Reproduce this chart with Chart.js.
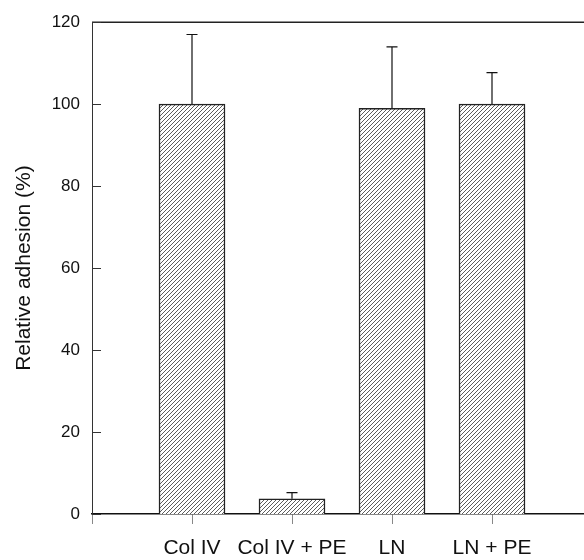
<!DOCTYPE html>
<html>
<head>
<meta charset="utf-8">
<script src="https://cdn.jsdelivr.net/npm/chart.js@4.4.1/dist/chart.umd.min.js"></script>
<style>
  html, body { margin: 0; padding: 0; background: #fff; }
  canvas { display: block; }
</style>
</head>
<body>
<canvas id="chart" width="584" height="560"></canvas>
<script>
  // data
  const tickLabels = ["", "Col IV", "Col IV + PE", "LN", "LN + PE"]
  const adhesion = [100, 3.7, 99, 100]      // bar heights (%)
  const errTop = [117, 5.2, 114, 107.7]     // upper end of error bars (%)
  const yTicks = [0, 20, 40, 60, 80, 100, 120]

  function hatch(){   // diagonal hatch fill like the print
    const c = document.createElement("canvas")
    c.width = 4; c.height = 4
    const g = c.getContext("2d")
    g.fillStyle = "#fff"
    g.fillRect(0, 0, 4, 4)
    g.strokeStyle = "#4a4a4a"
    g.lineWidth = 0.9
    g.beginPath()
    g.moveTo(-1, 5); g.lineTo(5, -1)
    g.stroke()
    return g.createPattern(c, "repeat")
  }

  const errorBars = {
    id: "errorBars",
    afterDatasetsDraw(chart){
      const {ctx, scales: {y}} = chart
      const bars = chart.getDatasetMeta(0).data
      ctx.save()
      ctx.strokeStyle = "#111"
      ctx.lineWidth = 1.2
      bars.forEach((b, i) => {
        const y0 = y.getPixelForValue(adhesion[i])
        const y1 = y.getPixelForValue(errTop[i])
        ctx.beginPath()
        ctx.moveTo(b.x, y0); ctx.lineTo(b.x, y1)
        ctx.moveTo(b.x - 5.5, y1); ctx.lineTo(b.x + 5.5, y1)
        ctx.stroke()
      })
      ctx.restore()
    }
  }

  const frame = {
    id: "frame",
    afterDraw(chart){
      const {ctx, chartArea: a, scales: {y}} = chart
      ctx.save()
      ctx.strokeStyle = "#222"
      ctx.lineWidth = 1.5
      ctx.beginPath()
      ctx.moveTo(a.left, a.top); ctx.lineTo(a.right, a.top)
      ctx.stroke()
      ctx.lineWidth = 1
      ctx.strokeStyle = "#333"
      ctx.beginPath()
      yTicks.forEach(v => {   // ticks pointing inward
        const py = Math.round(y.getPixelForValue(v)) + 0.5
        ctx.moveTo(a.left, py); ctx.lineTo(a.left + 9, py)
      })
      ctx.stroke()
      ctx.restore()
    }
  }

  const config = {
    type: "bar",
    data: {
      datasets: [{
        data: adhesion.map((v, i) => ({x: i + 1, y: v})),
        backgroundColor: hatch(),
        borderColor: "#222",
        borderWidth: 1.5,
        barThickness: 66
      }]
    },
    options: {
      responsive: false,
      animation: false,
      layout: {padding: {top: 17, right: 0, left: 0, bottom: 0}},
      plugins: {legend: {display: false}, tooltip: {enabled: false}},
      scales: {
        x: {
          type: "linear",
          min: 0,
          max: 4.92,
          offset: false,
          afterBuildTicks: s => { s.ticks = tickLabels.map((_, i) => ({value: i})) },
          afterFit: s => { s.height = 46 },
          grid: {display: true, offset: false, drawOnChartArea: false, tickLength: 10, color: "#888"},
          border: {display: true, color: "#111", width: 1.5},
          ticks: {
            callback: (v) => tickLabels[v] ?? "",
            font: {family: "'Liberation Sans', Arial, sans-serif", size: 21},
            color: "#111",
            padding: 12,
            maxRotation: 0,
            autoSkip: false
          }
        },
        y: {
          min: 0,
          max: 120,
          afterBuildTicks: s => { s.ticks = yTicks.map(v => ({value: v})) },
          afterFit: s => { s.width = 92 },
          grid: {display: false, drawTicks: false},
          border: {display: true, color: "#333", width: 1},
          ticks: {
            font: {family: "'Liberation Sans', Arial, sans-serif", size: 17},
            color: "#111",
            padding: 12
          },
          title: {
            display: true,
            text: "Relative adhesion (%)",
            font: {family: "'Liberation Sans', Arial, sans-serif", size: 21},
            color: "#111",
            padding: {top: 12, bottom: 0}
          }
        }
      }
    },
    plugins: [errorBars, frame]
  }

  new Chart(document.getElementById("chart"), config)
</script>
</body>
</html>
